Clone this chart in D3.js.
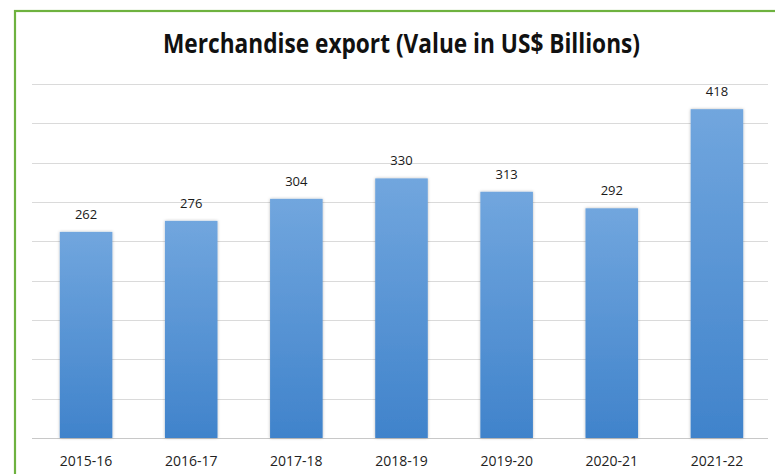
<!DOCTYPE html>
<html>
<head>
<meta charset="utf-8">
<script src="https://cdn.jsdelivr.net/npm/d3@7"></script>
<style>
  html, body { margin: 0; padding: 0; background: #ffffff; }
  svg { display: block; }
</style>
</head>
<body>
<svg id="chart" width="775" height="474"></svg>
<script>
// Merchandise exports by fiscal year, US$ billions
const years = ["2015-16", "2016-17", "2017-18", "2018-19", "2019-20", "2020-21", "2021-22"];
const exportValues = [262, 276, 304, 330, 313, 292, 418];
const gridTicks = [0, 50, 100, 150, 200, 250, 300, 350, 400, 450];
const titleText = "Merchandise export (Value in US$ Billions)";

const svg = d3.select("#chart");
const W = 775, H = 474;

const defs = svg.append("defs");
const grad = defs.append("linearGradient")
  .attr("id", "barFill").attr("x1", 0).attr("y1", 0).attr("x2", 0).attr("y2", 1);
grad.append("stop").attr("offset", "0%").attr("stop-color", "#71a6de");
grad.append("stop").attr("offset", "100%").attr("stop-color", "#4083cb");

const shadow = defs.append("filter").attr("id", "barShadow")
  .attr("x", "-20%").attr("y", "-10%").attr("width", "140%").attr("height", "120%");
shadow.append("feDropShadow").attr("dx", 0).attr("dy", 0)
  .attr("stdDeviation", 1.6).attr("flood-color", "#000").attr("flood-opacity", 0.28);

// Background and green frame
svg.append("rect").attr("width", W).attr("height", H).attr("fill", "#ffffff");
svg.append("rect")
  .attr("x", 15).attr("y", 11).attr("width", 800).attr("height", 500)
  .attr("fill", "#ffffff").attr("stroke", "#6eb23f").attr("stroke-width", 2.2);

const x = d3.scaleBand().domain(years).range([33.5, 769.5]).paddingInner(0.5).paddingOuter(0.25);
const y = d3.scaleLinear().domain([0, 450]).range([438, 84]);

// Horizontal gridlines
svg.append("g")
  .selectAll("line")
  .data(gridTicks)
  .join("line")
  .attr("x1", 32).attr("x2", 768)
  .attr("y1", d => Math.round(y(d)) + 0.5).attr("y2", d => Math.round(y(d)) + 0.5)
  .attr("stroke", d => d === 0 ? "#c8c8c8" : "#dadada")
  .attr("stroke-width", 1);

// Title
svg.append("text")
  .attr("x", 401.5).attr("y", 53)
  .attr("text-anchor", "middle")
  .attr("font-family", "'Open Sans', sans-serif")
  .attr("font-weight", 700)
  .attr("font-size", 26.5)
  .attr("fill", "#111111")
  .attr("textLength", 477)
  .attr("lengthAdjust", "spacingAndGlyphs")
  .text(titleText);

// Bars
svg.append("g")
  .selectAll("rect")
  .data(exportValues)
  .join("rect")
  .attr("x", (d, i) => x(years[i]))
  .attr("width", x.bandwidth())
  .attr("y", d => y(d))
  .attr("height", d => y(0) - y(d))
  .attr("fill", "url(#barFill)")
  .attr("filter", "url(#barShadow)");

// Value labels
svg.append("g")
  .selectAll("text")
  .data(exportValues)
  .join("text")
  .attr("x", (d, i) => x(years[i]) + x.bandwidth() / 2)
  .attr("y", d => y(d) - 13)
  .attr("text-anchor", "middle")
  .attr("font-family", "'Open Sans', sans-serif")
  .attr("font-size", 13)
  .attr("fill", "#1a1a1a")
  .text(d => d);

// Category axis labels
const xAxis = svg.append("g")
  .attr("transform", `translate(0,${y(0)})`)
  .call(d3.axisBottom(x).tickSize(0).tickPadding(18));
xAxis.select(".domain").remove();
xAxis.selectAll("text")
  .attr("font-family", "'Open Sans', sans-serif")
  .attr("font-size", 14)
  .attr("fill", "#222222");
</script>
</body>
</html>
